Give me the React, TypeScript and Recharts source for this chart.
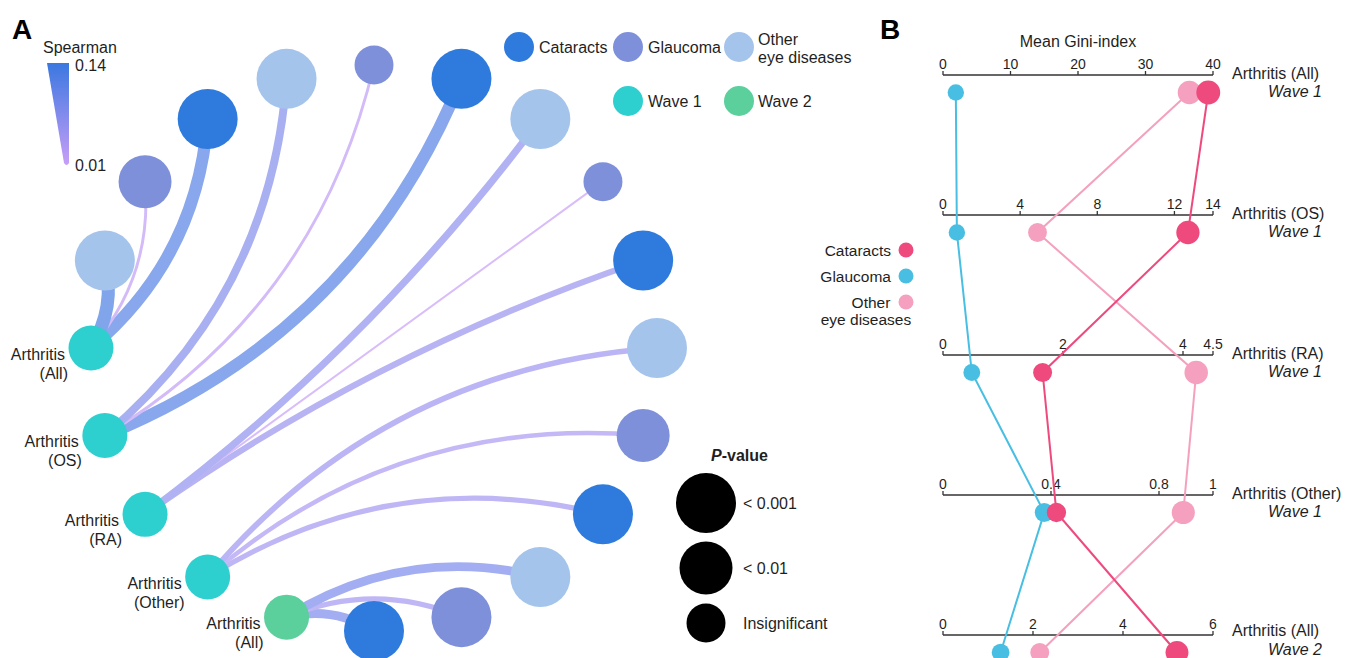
import React from "react";
import { Legend, ReferenceLine, Scatter, ScatterChart, XAxis, YAxis } from "recharts";

const FONT = "'Liberation Sans', Arial, Helvetica, sans-serif";
const INK = "#1f1f1f";

// ---------- Panel A: Spearman links between arthritis groups and eye diseases
const SOURCES = ["Arthritis (All)", "Arthritis (OS)", "Arthritis (RA)", "Arthritis (Other)", "Arthritis (All)"];
const SOURCE_WAVES = [1, 1, 1, 1, 2];
const DISEASES = ["Cataracts", "Glaucoma", "Other eye diseases"];
const RHO_CATARACTS = [0.12, 0.12, 0.055, 0.045, 0.085];
const RHO_GLAUCOMA = [0.02, 0.02, 0.01, 0.037, 0.045];
const RHO_OTHER = [0.13, 0.075, 0.065, 0.05, 0.085];
const P_LEVELS = ["< 0.001", "< 0.01", "Insignificant"];
const P_CATARACTS = [0, 0, 0, 0, 0];
const P_GLAUCOMA = [1, 2, 2, 1, 0];
const P_OTHER = [0, 0, 0, 0, 0];
const RHO_RANGE = [0.01, 0.14];

// ---------- Panel B: mean Gini-index per arthritis group
const GINI_ROWS = ["Arthritis (All)", "Arthritis (OS)", "Arthritis (RA)", "Arthritis (Other)", "Arthritis (All)"];
const GINI_WAVES = ["Wave 1", "Wave 1", "Wave 1", "Wave 1", "Wave 2"];
const GINI_MAX = [40, 14, 4.5, 1, 6];
const GINI_TICKS = [
  [0, 10, 20, 30, 40],
  [0, 4, 8, 12, 14],
  [0, 2, 4, 4.5],
  [0, 0.4, 0.8, 1],
  [0, 2, 4, 6],
];
const GINI_CATARACTS = [39.3, 12.7, 1.66, 0.42, 5.2];
const GINI_GLAUCOMA = [1.9, 0.72, 0.48, 0.375, 1.28];
const GINI_OTHER = [36.5, 4.9, 4.22, 0.89, 2.15];

// colours
const DISEASE_COLORS = ["#2f7bdd", "#7f90da", "#a5c4ec"];
const WAVE_COLORS = ["#2ecfcf", "#5bcf9c"];
const RHO_LOW = [199, 158, 247];
const RHO_HIGH = [58, 120, 224];
const P_RADIUS = [30, 26.5, 19.5];
const SOURCE_RADIUS = 22.5;
const GINI_COLORS = { Cataracts: "#ee4a7e", Glaucoma: "#48bfe2", Other: "#f4a0be" };

const hex = (c: number[]) => "#" + c.map((v) => Math.round(v).toString(16).padStart(2, "0")).join("");
const rhoT = (rho: number) => (rho - RHO_RANGE[0]) / (RHO_RANGE[1] - RHO_RANGE[0]);
const rhoRaw = (rho: number) => RHO_LOW.map((v, i) => v + (RHO_HIGH[i] - v) * rhoT(rho));
// links are drawn lighter than the legend ramp (washed with white)
const rhoColor = (rho: number) => hex(rhoRaw(rho).map((v) => v * 0.68 + 255 * 0.32));
const rhoWidth = (rho: number) => 2 + 12 * rhoT(rho);

// ---------- circular layout for panel A
const W_A = 870;
const H = 658;
const CX_A = 374;
const CY_A = 348;
const R_A = 283;

const RHO = [RHO_CATARACTS, RHO_GLAUCOMA, RHO_OTHER];
const PV = [P_CATARACTS, P_GLAUCOMA, P_OTHER];

const nodes: any[] = [];
SOURCES.forEach((name, i) => nodes.push({ kind: "source", src: i, name }));
for (let i = SOURCES.length - 1; i >= 0; i--) {
  DISEASES.forEach((_, d) => nodes.push({ kind: "target", src: i, disease: d, p: PV[d][i] }));
}
const step = (2 * Math.PI) / nodes.length;
nodes.forEach((n, k) => {
  const a = Math.PI + k * step;
  n.x = Math.cos(a);
  n.y = Math.sin(a);
});

const links: any[] = [];
SOURCES.forEach((_, i) => {
  DISEASES.forEach((__, d) => {
    const s = nodes.find((n) => n.kind === "source" && n.src === i);
    const t = nodes.find((n) => n.kind === "target" && n.src === i && n.disease === d);
    links.push({ key: `${i}-${d}`, rho: RHO[d][i], data: [{ x: s.x, y: s.y }, { x: t.x, y: t.y }, { x: 0, y: 0 }] });
  });
});

// quadratic curve bending towards the circle centre; links that cut
// across the middle of the circle stay almost straight
const linkPath = (rho: number) => (props: any) => {
  const [s, t, c] = props.points;
  const mx = (s.x + t.x) / 2;
  const my = (s.y + t.y) / 2;
  const dx = t.x - s.x;
  const dy = t.y - s.y;
  const len = Math.hypot(dx, dy) || 1;
  let nx = -dy / len;
  let ny = dx / len;
  if (nx * (c.x - mx) + ny * (c.y - my) < 0) {
    nx = -nx;
    ny = -ny;
  }
  const ax = s.x - c.x;
  const ay = s.y - c.y;
  const bx = t.x - c.x;
  const by = t.y - c.y;
  const cosT = (ax * bx + ay * by) / (Math.hypot(ax, ay) * Math.hypot(bx, by));
  const halfCos = Math.sqrt(Math.max(0, (1 + cosT) / 2));
  const bend = 0.105 * len * Math.min(1, halfCos / 0.45);
  const k = 2 * bend;
  return (
    <path
      d={`M${s.x},${s.y}Q${mx + nx * k},${my + ny * k} ${t.x},${t.y}`}
      fill="none"
      stroke={rhoColor(rho)}
      strokeWidth={rhoWidth(rho)}
    />
  );
};

const NoDot = () => <g />;

const NodeShape = (props: any) => {
  const { cx, cy, payload } = props;
  if (payload.kind === "source") {
    const lines = payload.name.replace("Arthritis ", "Arthritis\n").split("\n");
    return (
      <g>
        <circle cx={cx} cy={cy} r={SOURCE_RADIUS} fill={WAVE_COLORS[SOURCE_WAVES[payload.src] - 1]} />
        <text x={cx - 26} y={cy + 12} textAnchor="end" fontSize={16} fill={INK} fontFamily={FONT}>
          {lines[0]}
        </text>
        <text x={cx - 23} y={cy + 31} textAnchor="end" fontSize={16} fill={INK} fontFamily={FONT}>
          {lines[1]}
        </text>
      </g>
    );
  }
  return <circle cx={cx} cy={cy} r={P_RADIUS[payload.p]} fill={DISEASE_COLORS[payload.disease]} />;
};

const txt = { fontFamily: FONT, fontSize: 16, fill: INK };

const PanelALegend = () => (
  <svg width={W_A} height={H} style={{ display: "block" }}>
    <defs>
      <linearGradient id="spearmanGrad" x1="0" y1="0" x2="0" y2="1">
        <stop offset="0%" stopColor={hex(rhoRaw(RHO_RANGE[1]))} />
        <stop offset="50%" stopColor={hex(rhoRaw((RHO_RANGE[0] + RHO_RANGE[1]) / 2))} />
        <stop offset="100%" stopColor={hex(rhoRaw(RHO_RANGE[0]))} />
      </linearGradient>
    </defs>
    <text x={12} y={39} fontFamily={FONT} fontSize={28} fontWeight="bold" fill="#000">
      A
    </text>
    <text x={43} y={53} {...txt}>
      Spearman
    </text>
    <path d="M47,63 L69,63 L69,163 Q66.5,167 64,163 Z" fill="url(#spearmanGrad)" />
    <text x={75} y={71} {...txt}>
      {RHO_RANGE[1]}
    </text>
    <text x={75} y={171} {...txt}>
      {RHO_RANGE[0]}
    </text>

    <circle cx={519} cy={47} r={15} fill={DISEASE_COLORS[0]} />
    <text x={539} y={53} {...txt}>
      {DISEASES[0]}
    </text>
    <circle cx={628} cy={47} r={15} fill={DISEASE_COLORS[1]} />
    <text x={648} y={53} {...txt}>
      {DISEASES[1]}
    </text>
    <circle cx={739} cy={47} r={15} fill={DISEASE_COLORS[2]} />
    <text x={758} y={45} {...txt}>
      Other
    </text>
    <text x={758} y={63} {...txt}>
      eye diseases
    </text>
    <circle cx={628} cy={101} r={15} fill={WAVE_COLORS[0]} />
    <text x={648} y={107} {...txt}>
      Wave 1
    </text>
    <circle cx={739} cy={101} r={15} fill={WAVE_COLORS[1]} />
    <text x={758} y={107} {...txt}>
      Wave 2
    </text>

    <text x={711} y={461} {...txt} fontWeight="bold">
      <tspan fontStyle="italic">P</tspan>-value
    </text>
    {P_LEVELS.map((lab, i) => {
      const cy = [503, 568, 623][i];
      return (
        <g key={lab}>
          <circle cx={706} cy={cy} r={P_RADIUS[i]} fill="#000" />
          <text x={743} y={cy + 6} {...txt}>
            {lab}
          </text>
        </g>
      );
    })}
  </svg>
);

const PanelA = () => (
  <ScatterChart width={W_A} height={H} margin={{ top: 0, right: 0, bottom: 0, left: 0 }}>
    <XAxis type="number" dataKey="x" hide domain={[-CX_A / R_A, (W_A - CX_A) / R_A]} />
    <YAxis type="number" dataKey="y" hide domain={[-(H - CY_A) / R_A, CY_A / R_A]} />
    {links.map((l) => (
      <Scatter
        key={l.key}
        data={l.data}
        line={linkPath(l.rho)}
        lineType="joint"
        shape={NoDot}
        legendType="none"
        isAnimationActive={false}
      />
    ))}
    <Scatter data={nodes} shape={NodeShape} legendType="none" isAnimationActive={false} />
    <Legend
      layout="horizontal"
      verticalAlign="middle"
      align="center"
      wrapperStyle={{ left: 0, top: 0, width: W_A, height: H, pointerEvents: "none" }}
      content={() => <PanelALegend />}
    />
  </ScatterChart>
);

// ---------- Panel B
const W_B = 556;
const LEFT_B = 790;
const ROW0_Y = 75;
const ROW_GAP = 140;
const POINT_DROP = 17.5 / ROW_GAP;

const giniSeries = [
  { name: "Glaucoma", values: GINI_GLAUCOMA, color: GINI_COLORS.Glaucoma },
  { name: "Other", values: GINI_OTHER, color: GINI_COLORS.Other },
  { name: "Cataracts", values: GINI_CATARACTS, color: GINI_COLORS.Cataracts },
].map((s) => ({
  ...s,
  points: s.values.map((v, r) => ({ x: v / GINI_MAX[r], y: r + POINT_DROP, norm: v / GINI_MAX[r] })),
}));

const tickData = GINI_TICKS.flatMap((ticks, r) => ticks.map((t) => ({ x: t / GINI_MAX[r], y: r, label: String(t) })));

const TickShape = (props: any) => {
  const { cx, cy, payload } = props;
  return (
    <g>
      <line x1={cx} x2={cx} y1={cy} y2={cy - 4} stroke="#333" strokeWidth={1.3} />
      <text x={cx} y={cy - 6} textAnchor="middle" fontSize={14} fill={INK} fontFamily={FONT}>
        {payload.label}
      </text>
    </g>
  );
};

const giniDot = (color: string) => (props: any) => {
  const { cx, cy, payload } = props;
  return <circle cx={cx} cy={cy} r={8 + 4 * payload.norm} fill={color} />;
};

const RowTick = (props: any) => {
  const { x, y, payload } = props;
  const r = payload.value;
  // keep the two lines apart and inside the picture on the last row
  const base2 = Math.min(y + 22, H - 3.5);
  const base1 = Math.min(y + 6, base2 - 18.5);
  return (
    <g>
      <text x={x} y={base1} fontSize={16} fill={INK} fontFamily={FONT}>
        {GINI_ROWS[r]}
      </text>
      <text x={x + 90} y={base2} textAnchor="end" fontSize={16} fontStyle="italic" fill={INK} fontFamily={FONT}>
        {GINI_WAVES[r]}
      </text>
    </g>
  );
};

const PanelBLegend = () => (
  <svg width={200} height={340} style={{ display: "block" }}>
    <text x={880 - LEFT_B} y={39} fontFamily={FONT} fontSize={28} fontWeight="bold" fill="#000">
      B
    </text>
    <text x={101} y={256} textAnchor="end" {...txt} fontSize={15.5}>
      Cataracts
    </text>
    <circle cx={116} cy={250} r={7.5} fill={GINI_COLORS.Cataracts} />
    <text x={101} y={282} textAnchor="end" {...txt} fontSize={15.5}>
      Glaucoma
    </text>
    <circle cx={116} cy={276} r={7.5} fill={GINI_COLORS.Glaucoma} />
    <text x={81} y={308} textAnchor="middle" {...txt} fontSize={15.5}>
      Other
    </text>
    <text x={76} y={325} textAnchor="middle" {...txt} fontSize={15.5}>
      eye diseases
    </text>
    <circle cx={116} cy={302} r={7.5} fill={GINI_COLORS.Other} />
  </svg>
);

const PanelB = () => (
  <ScatterChart width={W_B} height={H} margin={{ top: 0, right: 0, bottom: 0, left: 943 - LEFT_B }}>
    <XAxis type="number" dataKey="x" hide domain={[0, 1]} />
    <YAxis
      type="number"
      dataKey="y"
      orientation="right"
      reversed
      width={133}
      domain={[-ROW0_Y / ROW_GAP, (H - ROW0_Y) / ROW_GAP]}
      ticks={GINI_ROWS.map((_, r) => r)}
      interval={0}
      axisLine={false}
      tickLine={false}
      tickSize={0}
      tickMargin={19}
      tick={RowTick}
    />
    {GINI_ROWS.map((_, r) => (
      <ReferenceLine
        key={r}
        segment={[
          { x: 0, y: r },
          { x: 1, y: r },
        ]}
        stroke="#333"
        strokeWidth={1.5}
        label={r === 0 ? { value: "Mean Gini-index", position: "top", offset: 28, fill: INK, fontSize: 16, fontFamily: FONT } : undefined}
      />
    ))}
    <Scatter data={tickData} shape={TickShape} legendType="none" isAnimationActive={false} />
    {giniSeries.map((s) => (
      <Scatter
        key={s.name + "-line"}
        data={s.points}
        line={{ stroke: s.color, strokeWidth: 2 }}
        lineType="joint"
        shape={NoDot}
        legendType="none"
        isAnimationActive={false}
      />
    ))}
    {giniSeries.map((s) => (
      <Scatter key={s.name} data={s.points} shape={giniDot(s.color)} legendType="none" isAnimationActive={false} />
    ))}
    <Legend
      layout="horizontal"
      verticalAlign="middle"
      align="center"
      wrapperStyle={{ left: 0, top: 0, width: 200, height: 340, pointerEvents: "none" }}
      content={() => <PanelBLegend />}
    />
  </ScatterChart>
);

export default function App() {
  return (
    <div
      style={{
        position: "absolute",
        left: 0,
        top: 0,
        width: 1346,
        height: H,
        background: "#fff",
        fontFamily: FONT,
        overflow: "hidden",
      }}
    >
      <div style={{ position: "absolute", left: 0, top: 0 }}>
        <PanelA />
      </div>
      <div style={{ position: "absolute", left: LEFT_B, top: 0 }}>
        <PanelB />
      </div>
    </div>
  );
}
